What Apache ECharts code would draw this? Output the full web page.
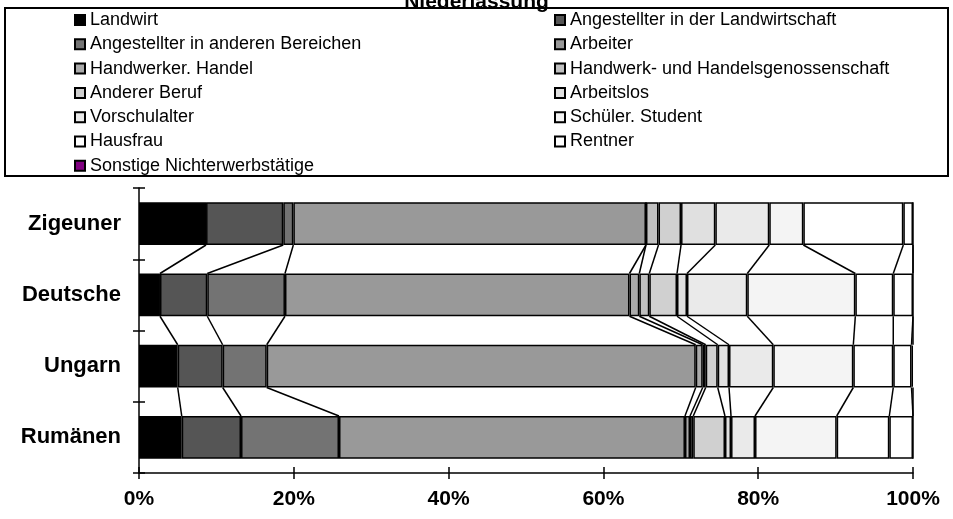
<!doctype html>
<html>
    <head>
        <meta charset="utf-8">
        <title>Niederlassung</title>
        <style>
            html, body { margin: 0; padding: 0; background: #fff; }
            #main { width: 953px; height: 519px; }
        </style>
    </head>
    <body>
        <div id="main"></div>
        <script src="https://cdn.jsdelivr.net/npm/echarts@6/dist/echarts.min.js"></script>
        <script>
            // categories, top to bottom
            var groups = ['Zigeuner', 'Deutsche', 'Ungarn', 'Rumänen'];
            var ticks = [0, 20, 40, 60, 80, 100];

            // share in % per group (Zigeuner, Deutsche, Ungarn, Rumänen)
            var landwirt        = [8.66, 2.71, 5.00, 5.52];
            var angLandw        = [9.98, 6.11, 5.81, 7.66];
            var angAndere       = [1.30, 10.04, 5.69, 12.66];
            var arbeiter        = [45.56, 44.51, 55.43, 44.70];
            var handwerker      = [0, 1.27, 0.90, 0.65];
            var genossenschaft  = [1.62, 1.29, 0.39, 0.42];
            var andererBeruf    = [2.91, 3.58, 1.55, 4.10];
            var arbeitslos      = [4.43, 1.29, 1.46, 0.78];
            var vorschulalter   = [6.97, 7.79, 5.72, 3.10];
            var schueler        = [4.40, 13.96, 10.34, 10.55];
            var hausfrau        = [12.92, 4.90, 5.16, 6.80];
            var rentner         = [1.25, 2.55, 2.36, 3.06];
            var sonstige        = [0, 0, 0.19, 0];

            var seriesDefs = [
                { name: 'Landwirt', data: landwirt, color: '#000000' },
                { name: 'Angestellter in der Landwirtschaft', data: angLandw, color: '#555555' },
                { name: 'Angestellter in anderen Bereichen', data: angAndere, color: '#737373' },
                { name: 'Arbeiter', data: arbeiter, color: '#999999' },
                { name: 'Handwerker. Handel', data: handwerker, color: '#aaaaaa' },
                { name: 'Handwerk- und Handelsgenossenschaft', data: genossenschaft, color: '#c0c0c0' },
                { name: 'Anderer Beruf', data: andererBeruf, color: '#d0d0d0' },
                { name: 'Arbeitslos', data: arbeitslos, color: '#e0e0e0' },
                { name: 'Vorschulalter', data: vorschulalter, color: '#eaeaea' },
                { name: 'Schüler. Student', data: schueler, color: '#f4f4f4' },
                { name: 'Hausfrau', data: hausfrau, color: '#ffffff' },
                { name: 'Rentner', data: rentner, color: '#ffffff' },
                { name: 'Sonstige Nichterwerbstätige', data: sonstige, color: '#800080' }
            ];

            var font = 'Liberation Sans, Arial, sans-serif';
            var chart = echarts.init(document.getElementById('main'));

            // connector lines between neighbouring bars (Excel series lines)
            var linkData = [];
            for (var g = 0; g < groups.length - 1; g++) {
                var cumA = 0, cumB = 0;
                seriesDefs.forEach(function (s) {
                    cumA += s.data[g];
                    cumB += s.data[g + 1];
                    linkData.push([cumA, cumB, g]);
                });
            }

            var series = seriesDefs.map(function (s) {
                return {
                    name: s.name,
                    type: 'bar',
                    stack: 'all',
                    barCategoryGap: '40%',
                    data: s.data,
                    itemStyle: { color: s.color, borderColor: '#000', borderWidth: 1.5 },
                    emphasis: { disabled: true },
                    silent: true
                };
            });

            series.push({
                type: 'custom',
                silent: true,
                z: 5,
                data: linkData,
                renderItem: function (params, api) {
                    var a = api.coord([api.value(0), api.value(2)]);
                    var b = api.coord([api.value(1), api.value(2) + 1]);
                    var h = api.size([0, 1])[1] * 0.3;
                    var dir = b[1] > a[1] ? 1 : -1;
                    return {
                        type: 'line',
                        shape: { x1: a[0], y1: a[1] + dir * h, x2: b[0], y2: b[1] - dir * h },
                        style: { stroke: '#000', lineWidth: 1.5 }
                    };
                }
            });

            var legendText = { fontFamily: font, fontSize: 18, color: '#000' };

            chart.setOption({
                animation: false,
                title: {
                    text: 'Niederlassung',
                    left: 'center',
                    top: -13,
                    textStyle: { fontFamily: font, fontSize: 21, fontWeight: 'bold', color: '#000' }
                },
                graphic: [{
                    type: 'rect',
                    shape: { x: 5, y: 8, width: 943, height: 168 },
                    style: { fill: 'none', stroke: '#000', lineWidth: 2 },
                    z: -1
                }],
                legend: [{
                    orient: 'vertical',
                    left: 69,
                    top: 6,
                    itemWidth: 10,
                    itemHeight: 10,
                    itemGap: 6.3,
                    selectedMode: false,
                    icon: 'rect',
                    textStyle: legendText,
                    data: ['Landwirt', 'Angestellter in anderen Bereichen', 'Handwerker. Handel', 'Anderer Beruf', 'Vorschulalter', 'Hausfrau', 'Sonstige Nichterwerbstätige']
                }, {
                    orient: 'vertical',
                    left: 549,
                    top: 6,
                    itemWidth: 10,
                    itemHeight: 10,
                    itemGap: 6.3,
                    selectedMode: false,
                    icon: 'rect',
                    textStyle: legendText,
                    data: ['Angestellter in der Landwirtschaft', 'Arbeiter', 'Handwerk- und Handelsgenossenschaft', 'Arbeitslos', 'Schüler. Student', 'Rentner']
                }],
                grid: { left: 139, right: 40, top: 188, bottom: 46, containLabel: false },
                xAxis: [{
                    type: 'value',
                    min: ticks[0],
                    max: ticks[ticks.length - 1],
                    interval: 20,
                    axisLine: { show: true, lineStyle: { color: '#000', width: 1.5 } },
                    axisTick: { show: true, length: 6, lineStyle: { color: '#000', width: 1.5 } },
                    axisLabel: {
                        margin: 16,
                        formatter: '{value}%',
                        fontFamily: font, fontSize: 21, fontWeight: 'bold', color: '#000'
                    },
                    splitLine: { show: false }
                }, {
                    type: 'value',
                    position: 'bottom',
                    min: ticks[0],
                    max: ticks[ticks.length - 1],
                    interval: 20,
                    axisLine: { show: false },
                    axisTick: { show: true, inside: true, length: 6, lineStyle: { color: '#000', width: 1.5 } },
                    axisLabel: { show: false },
                    splitLine: { show: false }
                }],
                yAxis: [{
                    type: 'category',
                    inverse: true,
                    data: groups,
                    axisLine: { show: true, lineStyle: { color: '#000', width: 1.5 } },
                    axisTick: { show: true, length: 6, lineStyle: { color: '#000', width: 1.5 } },
                    axisLabel: {
                        margin: 18,
                        fontFamily: font, fontSize: 22, fontWeight: 'bold', color: '#000'
                    }
                }, {
                    type: 'category',
                    inverse: true,
                    position: 'left',
                    data: groups,
                    axisLine: { show: false },
                    axisTick: { show: true, inside: true, length: 6, lineStyle: { color: '#000', width: 1.5 } },
                    axisLabel: { show: false }
                }],
                series: series
            });
        </script>
    </body>
</html>
